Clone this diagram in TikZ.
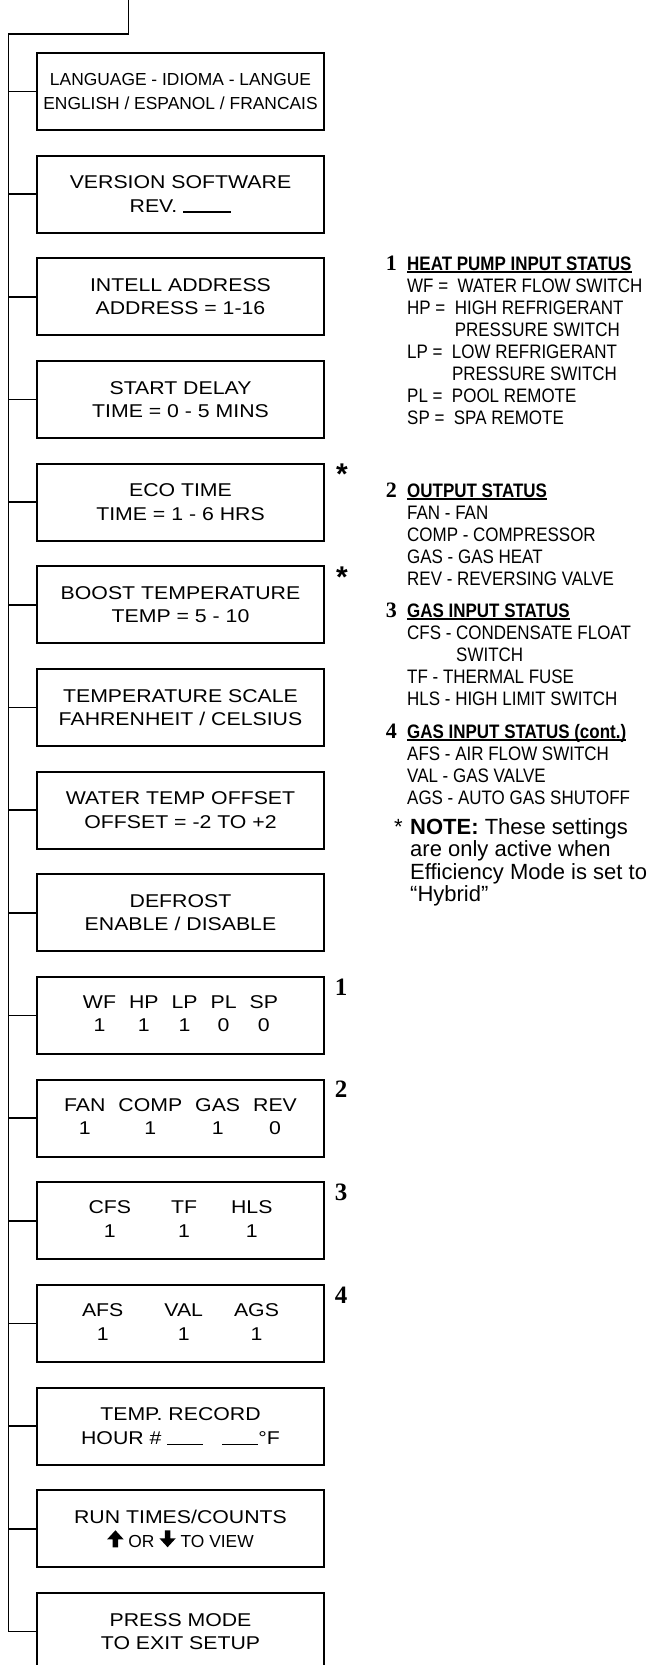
\documentclass[tikz,border=0pt]{standalone}
\usepackage{fontspec}
\setmainfont{Liberation Sans}
\newfontfamily\widefont[FakeStretch=1.15]{Liberation Sans}
\newfontfamily\narrowfont[FakeStretch=0.87]{Liberation Sans}
\newfontfamily\numfont{Liberation Serif}
\usetikzlibrary{positioning}
\newcommand{\boxfont}{\widefont\fontsize{18.5}{23.5}\selectfont}
\newcommand{\plainfont}{\normalfont\fontsize{17.4}{23.5}\selectfont}
\newcommand{\keyfont}{\narrowfont\fontsize{19.5}{22}\selectfont}
\newcommand{\notefont}{\fontsize{22}{22}\selectfont}
\newcommand{\hdul}[1]{\setbox0\hbox{#1}\rlap{\rule[-2.6pt]{\wd0}{1.3pt}}\box0}
\newcommand{\fillblank}[1]{\rule[-0.6pt]{#1}{1.2pt}}
\newcommand{\uparrowsym}{\tikz[baseline=0pt]\fill (-2.8pt,0pt) -- (2.8pt,0pt) -- (2.8pt,8pt) -- (8.2pt,8pt) -- (0pt,17pt) -- (-8.2pt,8pt) -- (-2.8pt,8pt) -- cycle;}
\newcommand{\downarrowsym}{\tikz[baseline=0pt]\fill (-2.8pt,17pt) -- (2.8pt,17pt) -- (2.8pt,9pt) -- (8.2pt,9pt) -- (0pt,0pt) -- (-8.2pt,9pt) -- (-2.8pt,9pt) -- cycle;}
\tikzset{
  menubox/.style={draw,line width=1.8pt,outer sep=0pt,minimum width=287pt,minimum height=77pt,inner sep=0pt,align=center,font=\boxfont},
  wire/.style={line width=1.5pt},
  starmark/.style={anchor=base,inner sep=0pt,font=\bfseries\fontsize{30}{30}\selectfont},
  sidenum/.style={anchor=base,inner sep=0pt,font=\numfont\bfseries\fontsize{25}{25}\selectfont},
  keynum/.style={anchor=base east,inner sep=0pt,font=\numfont\bfseries\fontsize{22}{22}\selectfont},
  keyblock/.style={anchor=base west,inner sep=0pt,font=\keyfont},
  noteblock/.style={anchor=base west,inner sep=0pt,font=\notefont}
}
\begin{document}
\begin{tikzpicture}[x=1pt,y=-1pt,node distance=25.67pt]
  \useasboundingbox (0,0) rectangle (651,1665);
  % menu boxes
  \node[menubox,anchor=north west,font=\plainfont] (b1) at (37,53) {LANGUAGE - IDIOMA - LANGUE\\ENGLISH / ESPANOL / FRANCAIS};
  \node[menubox,below=of b1] (b2) {VERSION SOFTWARE\\REV. \fillblank{48pt}};
  \node[menubox,below=of b2] (b3) {INTELL ADDRESS\\ADDRESS = 1-16};
  \node[menubox,below=of b3] (b4) {START DELAY\\TIME = 0 - 5 MINS};
  \node[menubox,below=of b4] (b5) {ECO TIME\\TIME = 1 - 6 HRS};
  \node[menubox,below=of b5] (b6) {BOOST TEMPERATURE\\TEMP = 5 - 10};
  \node[menubox,below=of b6] (b7) {TEMPERATURE SCALE\\FAHRENHEIT / CELSIUS};
  \node[menubox,below=of b7] (b8) {WATER TEMP OFFSET\\OFFSET = -2 TO +2};
  \node[menubox,below=of b8] (b9) {DEFROST\\ENABLE / DISABLE};
  \node[menubox,below=of b9] (b10) {\begin{tabular}{@{}c*{4}{@{\hspace{13pt}}c}@{}}WF&HP&LP&PL&SP\\1&1&1&0&0\end{tabular}};
  \node[menubox,below=of b10] (b11) {\begin{tabular}{@{}c*{3}{@{\hspace{13pt}}c}@{}}FAN&COMP&GAS&REV\\1&1&1&0\end{tabular}};
  \node[menubox,below=of b11] (b12) {\begin{tabular}{@{}c@{\hspace{40pt}}c@{\hspace{34pt}}c@{}}CFS&TF&HLS\\1&1&1\end{tabular}};
  \node[menubox,below=of b12] (b13) {\begin{tabular}{@{}c@{\hspace{41pt}}c@{\hspace{31pt}}c@{}}AFS&VAL&AGS\\1&1&1\end{tabular}};
  \node[menubox,below=of b13] (b14) {TEMP. RECORD\\HOUR \# \fillblank{36pt}\hspace{19pt}\fillblank{36pt}°F};
  \node[menubox,below=of b14] (b15) {RUN TIMES/COUNTS\\{\plainfont\uparrowsym{} OR \downarrowsym{} TO VIEW}};
  \node[menubox,below=of b15] (b16) {PRESS MODE\\TO EXIT SETUP};
  % bus line
  \coordinate (feed) at (128.5,0);
  \coordinate (bend) at (8.5,34);
  \draw[wire] (feed) |- (bend) -- (bend |- b16.west) -- (b16.west);
  \foreach \i in {1,...,15} \draw[wire] (b\i.west) -- (b\i.west -| bend);
  % side marks
  \node[starmark] (s5) at ([xshift=18pt,yshift=-21pt]b5.north east) {*};
  \node[starmark] (s6) at ([xshift=18pt,yshift=-21pt]b6.north east) {*};
  \node[sidenum] (n1) at ([xshift=17pt,yshift=-18pt]b10.north east) {1};
  \node[sidenum] (n2) at ([xshift=17pt,yshift=-18pt]b11.north east) {2};
  \node[sidenum] (n3) at ([xshift=17pt,yshift=-18pt]b12.north east) {3};
  \node[sidenum] (n4) at ([xshift=17pt,yshift=-18pt]b13.north east) {4};
  % key
  \node[keynum] (k1) at (397,270) {1};
  \node[keyblock] (key1) at (407,270) {\begin{tabular}[t]{@{}l@{}}\hdul{\bfseries HEAT PUMP INPUT STATUS}\\
    WF = \ WATER FLOW SWITCH\\
    HP = \ HIGH REFRIGERANT\\
    \hphantom{HP = \ }PRESSURE SWITCH\\
    LP = \ LOW REFRIGERANT\\
    \hphantom{LP = \ }PRESSURE SWITCH\\
    PL = \ POOL REMOTE\\
    SP = \ SPA REMOTE\end{tabular}};
  \node[keynum] (k2) at (397,497) {2};
  \node[keyblock] (key2) at (407,497) {\begin{tabular}[t]{@{}l@{}}\hdul{\bfseries OUTPUT STATUS}\\
    FAN - FAN\\
    COMP - COMPRESSOR\\
    GAS - GAS HEAT\\
    REV - REVERSING VALVE\end{tabular}};
  \node[keynum] (k3) at (397,617) {3};
  \node[keyblock] (key3) at (407,617) {\begin{tabular}[t]{@{}l@{}}\hdul{\bfseries GAS INPUT STATUS}\\
    CFS - CONDENSATE FLOAT\\
    \hphantom{CFS - }SWITCH\\
    TF - THERMAL FUSE\\
    HLS - HIGH LIMIT SWITCH\end{tabular}};
  \node[keynum] (k4) at (397,738) {4};
  \node[keyblock] (key4) at (407,738) {\begin{tabular}[t]{@{}l@{}}\hdul{\bfseries GAS INPUT STATUS (cont.)}\\
    AFS - AIR FLOW SWITCH\\
    VAL - GAS VALVE\\
    AGS - AUTO GAS SHUTOFF\end{tabular}};
  % note
  \node[noteblock,anchor=base east] (nstar) at (403,834) {*};
  \node[noteblock] (note) at (410,834) {\begin{tabular}[t]{@{}l@{}}\textbf{NOTE:} These settings\\
    are only active when\\
    Efficiency Mode is set to\\
    “Hybrid”\end{tabular}};
\end{tikzpicture}
\end{document}
